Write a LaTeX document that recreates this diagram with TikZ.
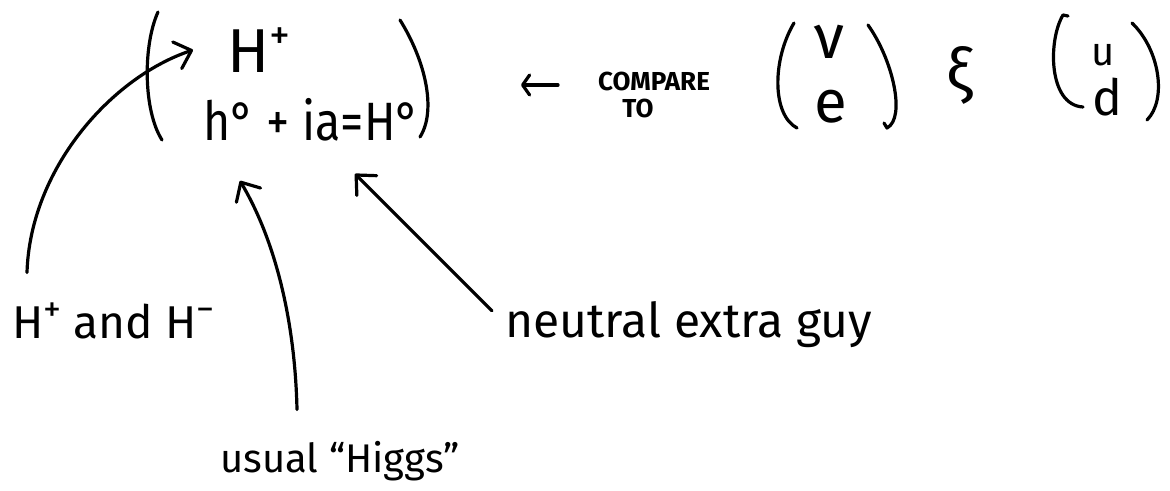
\documentclass[tikz,border=0pt]{standalone}
\usepackage{fontspec}
\setmainfont{Fira Sans}
\usetikzlibrary{arrows.meta}
\newcommand\fsz[1]{\fontsize{#1}{#1}\selectfont}
\begin{document}
\begin{tikzpicture}[x=1pt,y=-1pt,
  pen/.style={line width=3.2pt, line cap=round, line join=round},
  bigtip/.style={-{Straight Barb[length=15pt,width=28pt,round]}},
  smalltip/.style={-{Straight Barb[length=7pt,width=20pt,round]}},
  lbl/.style={inner sep=0pt, anchor=base west},
  glyph/.style={inner sep=0pt, anchor=base}]
\fill[white] (0,0) rectangle (1170,490);
\useasboundingbox (0,0) rectangle (1170,490);

% first doublet
\node[lbl, font=\fsz{62}] (Hp) at (227,72) {H\raisebox{0.36em}{\fsz{42}+}};
\node[lbl, font=\fsz{54}, transform shape, xscale=0.86] (row) at (203,140) {h° + ia=H°};
\draw[pen] (158,12) .. controls (143,45) and (143,110) .. (162,140);
\draw[pen] (400,20) .. controls (425,60) and (437,110) .. (420,137);

% compare to
\node[lbl, font=\fsz{26}\bfseries] (cmp) at (598,90) {COMPARE};
\node[glyph, font=\fsz{26}\bfseries] (to) at (638,117) {TO};
\draw[pen, smalltip] ([xshift=-40pt,yshift=-4pt]cmp.west) -- ([xshift=-77pt,yshift=-4pt]cmp.west);

% lepton doublet
\node[glyph, font=\fsz{62}] (nu) at (829,58) {ν};
\node[glyph, font=\fsz{60}] (e) at (831,122) {e};
\draw[pen] (794,23) .. controls (772,60) and (772,115) .. (797,128);
\draw[pen] (868,25) .. controls (893,60) and (906,118) .. (887,128) -- (884,123);

% and
\node[glyph, font=\fsz{60}] (xi) at (960,91) {ξ};

% quark doublet
\node[glyph, font=\fsz{40}] (u) at (1103,65) {u};
\node[glyph, font=\fsz{50}] (d) at (1107,115) {d};
\draw[pen] (1068,16) -- (1063,15) .. controls (1048,40) and (1048,105) .. (1083,107);
\draw[pen] (1132,23) .. controls (1160,50) and (1167,100) .. (1147,120);

% labels
\node[lbl, font=\fsz{46}] (hpm) at (12,338) {H\raisebox{0.36em}{\fsz{36}+} and H\raisebox{0.36em}{\fsz{36}−}};
\node[lbl, font=\fsz{48}] (neu) at (505,337) {neutral extra guy};
\node[lbl, font=\fsz{40}] (usu) at (220,472) {usual ``Higgs''};

% connectors
\draw[pen, bigtip] ([xshift=15pt,yshift=30pt]hpm.north west)
  .. controls (30,170) and (110,78) .. ([xshift=-34pt]Hp.west);
\draw[pen, bigtip] ([xshift=77pt,yshift=31pt]usu.north west)
  .. controls (295,320) and (275,240) .. ([xshift=37pt,yshift=-40pt]row.south west);
\draw[pen, bigtip] ([xshift=-13pt,yshift=-10pt]neu.north west)
  -- ([xshift=152pt,yshift=-33pt]row.south west);
\end{tikzpicture}
\end{document}
